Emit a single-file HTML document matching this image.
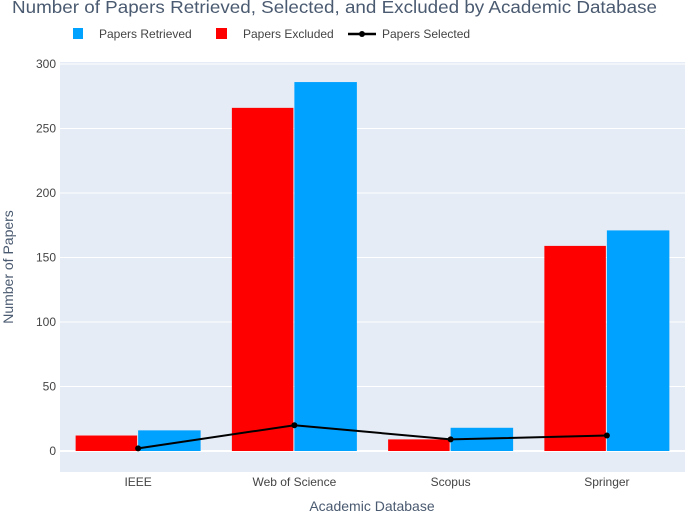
<!DOCTYPE html>
<html><head><meta charset="utf-8"><style>
body{margin:0;background:#fff;font-family:"Liberation Sans",sans-serif}
svg text{font-family:"Liberation Sans",sans-serif}
</style></head><body>
<svg width="685" height="512">
<text x="12" y="13" font-size="17.5" fill="#4a5a70" textLength="645" lengthAdjust="spacingAndGlyphs">Number of Papers Retrieved, Selected, and Excluded by Academic Database</text>
<g font-size="12" fill="#444">
<g><rect x="73" y="28" width="10" height="11" fill="#00a2ff"/><text x="99" y="38">Papers Retrieved</text></g>
<g><rect x="216" y="28" width="11" height="11" fill="#ff0000"/><text x="243" y="38">Papers Excluded</text></g>
<g><line x1="348" y1="34" x2="376" y2="34" stroke="#000" stroke-width="2.5"/><circle cx="362" cy="34" r="3" fill="#000"/><text x="382" y="38">Papers Selected</text></g>
</g>
<rect x="60" y="62" width="625" height="410" fill="#e5ecf6"/>
<g id="grid"></g><g id="bars"></g><g id="line"></g><g id="axes"></g>
<text x="372" y="511" font-size="14" fill="#4a5a70" text-anchor="middle">Academic Database</text>
<text transform="translate(13,267) rotate(-90)" font-size="14" fill="#4a5a70" text-anchor="middle">Number of Papers</text>
</svg>
<script>
const categories=["IEEE","Web of Science","Scopus","Springer"];
const retrieved=[16,286,18,171];
const excluded=[12,266,9,159];
const selected=[2,20,9,12];
const yTicks=[0,50,100,150,200,250,300];
const NS="http://www.w3.org/2000/svg";
const x0=60,pw=625,yZero=451,yTop=64;
const y=v=>yZero-(yZero-yTop)*v/300;
const band=pw/categories.length;
const cx=i=>x0+band*(i+0.5);
function mk(t,a,p){const e=document.createElementNS(NS,t);for(const k in a)e.setAttribute(k,a[k]);document.getElementById(p).appendChild(e);return e;}
yTicks.forEach(t=>{
 const l=mk('line',{x1:x0,x2:x0+pw,y1:y(t),y2:y(t),stroke:'#fff','stroke-width':t===0?2:1},'grid');
 
 
 const tx=mk('text',{x:x0-4,y:y(t)+4,'font-size':12,fill:'#444','text-anchor':'end'},'axes');
 tx.textContent=t;
 
 
});
const bw=band*0.4;
categories.forEach((c,i)=>{
 const r1=mk('rect',{x:cx(i)-bw,y:y(excluded[i]),width:bw-1,height:y(0)-y(excluded[i]),fill:'#ff0000'},'bars');
 
 
 const r2=mk('rect',{x:cx(i),y:y(retrieved[i]),width:bw,height:y(0)-y(retrieved[i]),fill:'#00a2ff'},'bars');
 
 
 const t=mk('text',{x:cx(i),y:486,'font-size':12,fill:'#444','text-anchor':'middle'},'axes');
 t.textContent=c;
 
 
});
const pl=mk('polyline',{points:selected.map((v,i)=>cx(i)+','+y(v)).join(' '),fill:'none',stroke:'#000','stroke-width':2},'line');


selected.forEach((v,i)=>{
 const m=mk('circle',{cx:cx(i),cy:y(v),r:3,fill:'#000'},'line');
 
 
});
</script>
</body></html>
